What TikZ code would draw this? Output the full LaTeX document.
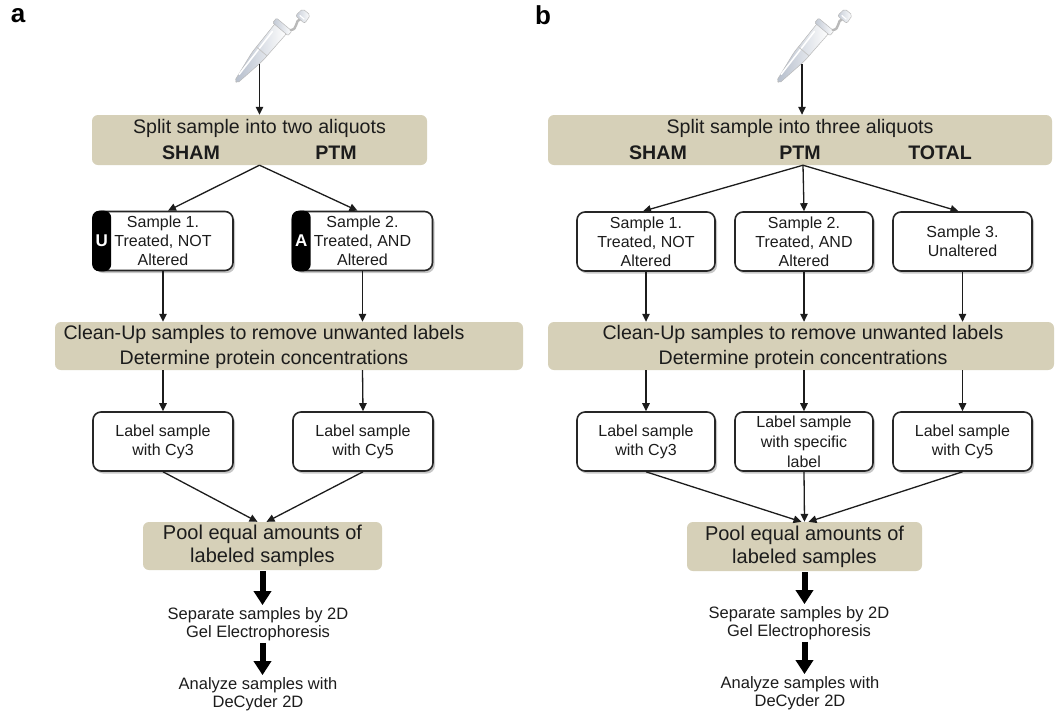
\documentclass[tikz,border=0pt]{standalone}
\usepackage{fontspec}
\setmainfont{Liberation Sans}
\usetikzlibrary{arrows.meta,shadows}
\definecolor{panelTan}{RGB}{214,208,184}
\definecolor{ink}{RGB}{28,28,28}
\definecolor{frame}{RGB}{38,38,38}
\definecolor{tubeblue}{RGB}{150,162,182}

\tikzset{
  tanbox/.style={fill=panelTan, rounded corners=6pt, inner sep=0pt},
  tantext/.style={text=ink, inner sep=0pt, font=\fontsize{19.6}{25}\selectfont},
  tanbold/.style={text=ink, inner sep=0pt, font=\fontsize{19.6}{25}\selectfont\bfseries},
  poolbox/.style={fill=panelTan, rounded corners=6pt, inner sep=0pt, align=center,
    text=ink, font=\fontsize{20}{23}\selectfont},
  samplebox/.style={draw=frame, line width=1.6pt, fill=white, rounded corners=8pt,
    minimum width=140pt, minimum height=59pt, inner sep=0pt, align=center, text=ink,
    font=\fontsize{16}{18.8}\selectfont,
    drop shadow={shadow xshift=2pt, shadow yshift=-2.5pt, opacity=0.22, fill=black}},
  steptext/.style={align=center, text=ink, inner sep=2pt, font=\fontsize{16.5}{18}\selectfont},
  arr/.style={draw=ink, line width=1.3pt, -{Triangle[length=8pt,width=7.5pt]}},
  fatarr/.style={draw=black, line width=6pt, -{Triangle[length=14pt,width=17pt]}},
  tablabel/.style={text=white, inner sep=0pt, font=\fontsize{17}{17}\selectfont\bfseries},
  panellabel/.style={inner sep=0pt, font=\fontsize{26}{26}\selectfont\bfseries},
  tube/.pic={
    % conical microtube body
    \shade[left color=tubeblue!70, right color=white, draw=gray!55, line width=0.5pt,
      rounded corners=2pt]
      (-1.8,0) -- (-6.8,-33) -- (-7.6,-70) -- (7.6,-70) -- (6.8,-33) -- (1.8,0) -- cycle;
    \draw[white, line width=1.6pt, line cap=round] (-2.5,-8) -- (-4.6,-62);
    \draw[gray!45, line width=0.8pt] (-6.9,-40) -- (6.9,-40);
    % rim
    \shade[left color=tubeblue!60, right color=white, draw=gray!55, line width=0.5pt,
      rounded corners=1pt] (-10,-69) rectangle (10,-75);
    % hinge strap and open lid
    \draw[gray!55, line width=2.4pt, line cap=round]
      (8.5,-75) .. controls (14,-80) and (5,-85) .. (9,-90);
    \shade[left color=tubeblue!55, right color=white, draw=gray!55, line width=0.5pt,
      rounded corners=2pt] (3,-89) -- (15,-89) -- (14,-99) -- (4,-99) -- cycle;
    \draw[white, line width=1.2pt] (6,-92) -- (12,-92);
  }
}

\begin{document}
\begin{tikzpicture}[x=1pt,y=-1pt]
\useasboundingbox[fill=white] (0,0) rectangle (1059,713);

% ---------------- panel a ----------------
\node[panellabel] (labA) at (18,16) {a};
\pic[shift={(236,82)}, rotate=-40] {tube};
\coordinate (tubeA) at (259.5,64);

\node[tanbox, minimum width=335pt, minimum height=50pt] (splitA) at (259.5,140) {};
\node[tantext] (splitAt) at (259.5,128) {Split sample into two aliquots};
\node[tanbold] (shamA) at (191,153) {SHAM};
\node[tanbold] (ptmA) at (336,153) {PTM};

\node[samplebox] (s1A) at (163,241) {Sample 1.\\Treated, NOT\\Altered};
\node[samplebox] (s2A) at (362.5,241) {Sample 2.\\Treated, AND\\Altered};
\fill[black, rounded corners=7pt] (s1A.north west) rectangle ([xshift=19pt]s1A.south west);
\fill[black, rounded corners=7pt] (s2A.north west) rectangle ([xshift=19pt]s2A.south west);
\node[tablabel] (tabU) at ([xshift=9.5pt]s1A.west) {U};
\node[tablabel] (tabA) at ([xshift=9.5pt]s2A.west) {A};

\node[tanbox, minimum width=468pt, minimum height=48pt] (cleanA) at (289,346) {};
\node[tantext, align=center] (cleanAt) at (264,346.5)
  {Clean-Up samples to remove unwanted labels\\Determine protein concentrations};

\node[samplebox] (l1A) at (163,441.5) {Label sample\\with Cy3};
\node[samplebox] (l2A) at (363,441.5) {Label sample\\with Cy5};

\node[poolbox, minimum width=239pt, minimum height=48pt] (poolA) at (262.5,546)
  {Pool equal amounts of\\labeled samples};
\node[steptext] (sepA) at (258,624) {Separate samples by 2D\\Gel Electrophoresis};
\node[steptext] (anaA) at (258,694) {Analyze samples with\\DeCyder 2D};

\draw[arr] (tubeA) -- (tubeA |- splitA.north);
\draw[arr] (splitA.south) -- ([xshift=5pt]s1A.north);
\draw[arr] (splitA.south) -- ([xshift=-5pt]s2A.north);
\draw[arr] (s1A.south) -- (s1A.south |- cleanA.north);
\draw[arr] (s2A.south) -- (s2A.south |- cleanA.north);
\draw[arr] (s1A.south |- cleanA.south) -- (l1A.north);
\draw[arr] (s2A.south |- cleanA.south) -- (l2A.north);
\draw[arr] (l1A.south) -- ([xshift=-5pt]poolA.north);
\draw[arr] (l2A.south) -- ([xshift=4pt]poolA.north);
\draw[fatarr] ([yshift=-1pt]poolA.south) -- (poolA.south |- sepA.north);
\draw[fatarr] (poolA.south |- sepA.south) -- (poolA.south |- anaA.north);

% ---------------- panel b ----------------
\node[panellabel] (labB) at (543,15) {b};
\pic[shift={(778,82)}, rotate=-40] {tube};
\coordinate (tubeB) at (802,64);

\node[tanbox, minimum width=504pt, minimum height=50pt] (splitB) at (800,140) {};
\node[tantext] (splitBt) at (800,128) {Split sample into three aliquots};
\node[tanbold] (shamB) at (658,153) {SHAM};
\node[tanbold] (ptmB) at (800,153) {PTM};
\node[tanbold] (totB) at (940,153) {TOTAL};

\node[samplebox, minimum width=138pt] (s1B) at (646,241.5) {Sample 1.\\Treated, NOT\\Altered};
\node[samplebox, minimum width=138pt] (s2B) at (804,241.5) {Sample 2.\\Treated, AND\\Altered};
\node[samplebox, minimum width=139pt] (s3B) at (962.5,241.5) {Sample 3.\\Unaltered};

\node[tanbox, minimum width=506pt, minimum height=48pt] (cleanB) at (801,346) {};
\node[tantext, align=center] (cleanBt) at (803,346.5)
  {Clean-Up samples to remove unwanted labels\\Determine protein concentrations};

\node[samplebox, minimum width=138pt] (l1B) at (646,441.5) {Label sample\\with Cy3};
\node[samplebox, minimum width=138pt, font=\fontsize{16}{20}\selectfont] (l2B) at (804,441.5)
  {Label sample\\with specific\\label};
\node[samplebox, minimum width=139pt] (l3B) at (962.5,441.5) {Label sample\\with Cy5};

\node[poolbox, minimum width=235pt, minimum height=49pt] (poolB) at (804.5,546.5)
  {Pool equal amounts of\\labeled samples};
\node[steptext] (sepB) at (799,623) {Separate samples by 2D\\Gel Electrophoresis};
\node[steptext] (anaB) at (800,693) {Analyze samples with\\DeCyder 2D};

\draw[arr] (tubeB) -- (tubeB |- splitB.north);
\draw[arr] ([xshift=3pt]splitB.south) -- ([xshift=-3pt]s1B.north);
\draw[arr] ([xshift=3pt]splitB.south) -- (s2B.north);
\draw[arr] ([xshift=3pt]splitB.south) -- ([xshift=-4pt]s3B.north);
\draw[arr] (s1B.south) -- (s1B.south |- cleanB.north);
\draw[arr] (s2B.south) -- (s2B.south |- cleanB.north);
\draw[arr] (s3B.south) -- (s3B.south |- cleanB.north);
\draw[arr] (s1B.south |- cleanB.south) -- (l1B.north);
\draw[arr] (s2B.south |- cleanB.south) -- (l2B.north);
\draw[arr] (s3B.south |- cleanB.south) -- (l3B.north);
\draw[arr] (l1B.south) -- ([xshift=-3pt]poolB.north);
\draw[arr] (l2B.south) -- (poolB.north);
\draw[arr] (l3B.south) -- ([xshift=4pt]poolB.north);
\draw[fatarr] ([yshift=-1pt]poolB.south) -- (poolB.south |- sepB.north);
\draw[fatarr] (poolB.south |- sepB.south) -- (poolB.south |- anaB.north);
\end{tikzpicture}
\end{document}
